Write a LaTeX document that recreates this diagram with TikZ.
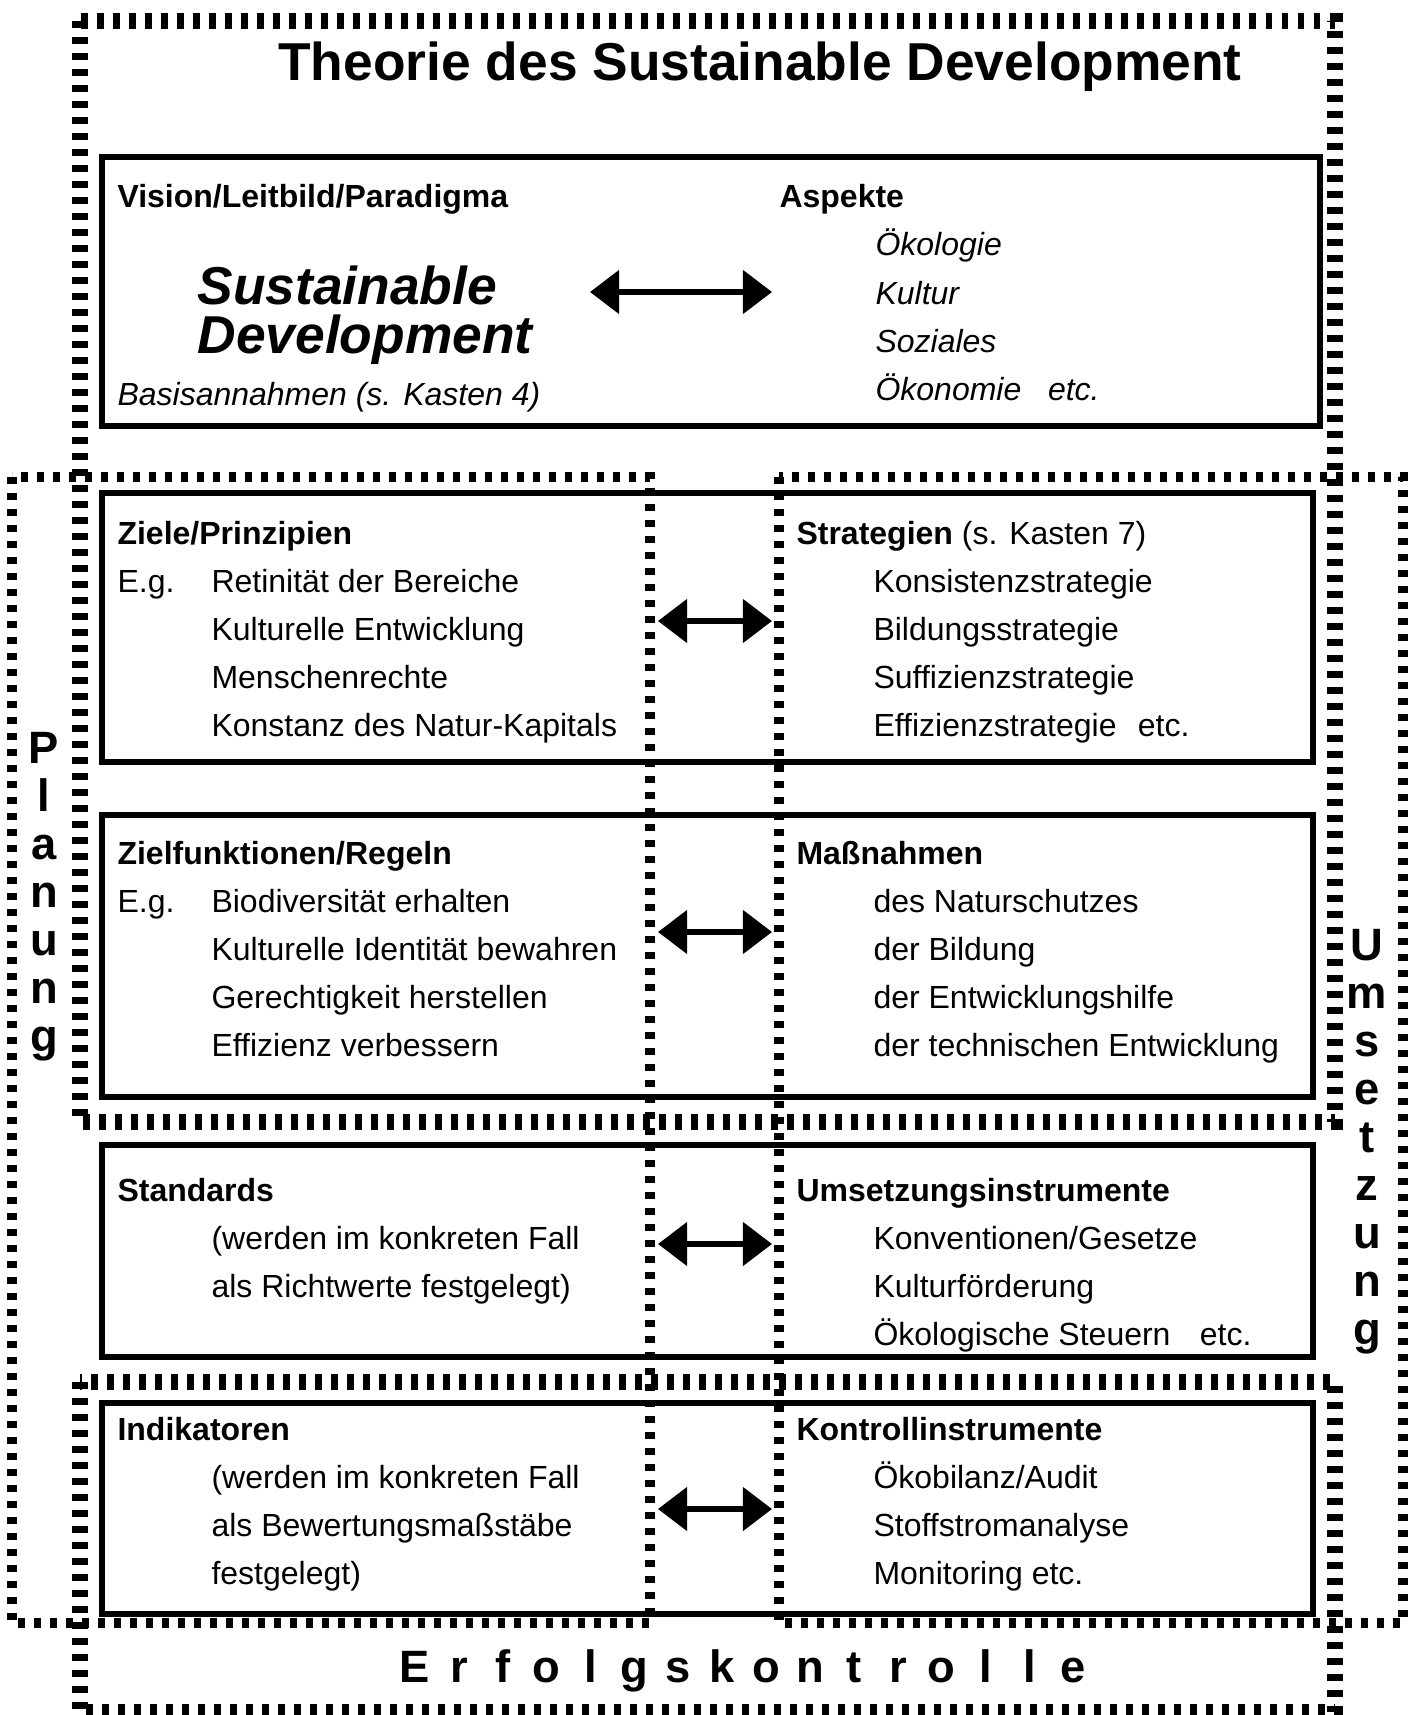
\documentclass[tikz,border=0pt]{standalone}
\usepackage{fontspec}
\setmainfont{Liberation Sans}
\usetikzlibrary{arrows.meta}
\tikzset{
  kasten/.style  ={draw=black,line width=1.9pt},
  theorie/.style ={draw=black,line width=5.8pt,dash pattern=on 2.45pt off 3.55pt},
  phase/.style   ={draw=black,line width=3.6pt,dash pattern=on 2.6pt off 3.4pt},
  txt/.style     ={anchor=base west,inner sep=0pt,font=\fontsize{12}{14}\selectfont},
  head/.style    ={txt,font=\fontsize{12}{14}\selectfont\bfseries},
  asp/.style     ={txt,font=\fontsize{12}{14}\selectfont\itshape},
  leitbild/.style={anchor=base west,inner sep=0pt,font=\fontsize{20}{24}\selectfont\bfseries\itshape},
  titel/.style   ={anchor=base,inner sep=0pt,font=\fontsize{20}{24}\selectfont\bfseries},
  sperr/.style   ={anchor=base,inner sep=0pt,font=\fontsize{17}{20}\selectfont\bfseries},
  link/.style    ={{Triangle[length=10.9pt,width=16.1pt]}-{Triangle[length=10.9pt,width=16.1pt]},
                   line width=1.9pt},
}

\begin{document}
\begin{tikzpicture}[x=0.375pt,y=-0.375pt]
\useasboundingbox (0,0) rectangle (1414,1715);

\newcommand{\liste}[4]{\foreach \t [count=\i] in {#4}
  \node[txt] (#1\i) at (#2,{#3+48*\i}) {\t};}

%% frames
\draw[theorie] (80,21) rectangle (1335,1122);
\draw[theorie] (80,1382) rectangle (1335,1712);
\draw[phase] (12,477) rectangle (650,1623);
\draw[phase] (779,477) rectangle (1403,1623);

\node[titel] (titel) at (760,81) {Theorie des Sustainable Development};

%% Kasten 1
\draw[kasten] (102,157) rectangle (1320,426);
\node[head] (vision) at (117,208) {Vision/Leitbild/Paradigma};
\node[leitbild] (sd1) at (197,304) {Sustainable};
\node[leitbild] (sd2) at (197,353) {Development};
\node[asp] (basis) at (117,405) {Basisannahmen (s. Kasten 4)};
\node[head] (aspekte) at (779,208) {Aspekte};
\foreach \t [count=\i] in {Ökologie, Kultur, Soziales, Ökonomie\hspace{10pt}etc.}
  \node[asp] (asp\i) at (875,{208+48*\i}) {\t};

%% Kasten 2
\draw[kasten] (102,493) rectangle (1313,762);
\node[head] (ziele) at (117,544) {Ziele/Prinzipien};
\node[txt] (eg1) at (117,592) {E.g.};
\liste{zl}{211}{544}{Retinität der Bereiche, Kulturelle Entwicklung, Menschenrechte,
  Konstanz des Natur-Kapitals}
\node[txt] (strat) at (796,544) {\textbf{Strategien} (s. Kasten 7)};
\liste{zr}{873}{544}{Konsistenzstrategie, Bildungsstrategie, Suffizienzstrategie,
  Effizienzstrategie\hspace{8pt}etc.}

%% Kasten 3
\draw[kasten] (102,815) rectangle (1313,1097);
\node[head] (regeln) at (117,864) {Zielfunktionen/Regeln};
\node[txt] (eg2) at (117,912) {E.g.};
\liste{rl}{211}{864}{Biodiversität erhalten, Kulturelle Identität bewahren,
  Gerechtigkeit herstellen, Effizienz verbessern}
\node[head] (massn) at (796,864) {Maßnahmen};
\liste{rr}{873}{864}{des Naturschutzes, der Bildung, der Entwicklungshilfe,
  der technischen Entwicklung}

%% Kasten 4
\draw[kasten] (102,1145) rectangle (1313,1357);
\node[head] (stand) at (117,1201) {Standards};
\liste{sl}{211}{1201}{{(werden im konkreten Fall}, {als Richtwerte festgelegt)}}
\node[head] (umsetz) at (796,1201) {Umsetzungsinstrumente};
\liste{sr}{873}{1201}{Konventionen/Gesetze, Kulturförderung,
  Ökologische Steuern\hspace{11pt}etc.}

%% Kasten 5
\draw[kasten] (102,1403) rectangle (1313,1614);
\node[head] (indik) at (117,1440) {Indikatoren};
\liste{il}{211}{1440}{{(werden im konkreten Fall}, {als Bewertungsmaßstäbe}, {festgelegt)}}
\node[head] (kontr) at (796,1440) {Kontrollinstrumente};
\liste{ir}{873}{1440}{Ökobilanz/Audit, Stoffstromanalyse, Monitoring etc.}

%% double arrows
\foreach \n/\xa/\yy in {1/590/292, 2/658/621, 3/658/932, 4/658/1244, 5/658/1509}
  { \coordinate (al\n) at (\xa,\yy);
    \coordinate (ar\n) at (772,\yy);
    \draw[link] (al\n) -- (ar\n); }

%% spaced labels
\foreach \c [count=\i from 0] in {P,l,a,n,u,n,g}
  \node[sperr] (plan\i) at (44,{763+48*\i}) {\c};
\foreach \c [count=\i from 0] in {U,m,s,e,t,z,u,n,g}
  \node[sperr] (ums\i) at (1367,{960+48*\i}) {\c};
\foreach \c [count=\i from 0] in {E,r,f,o,l,g,s,k,o,n,t,r,o,l,l,e}
  \node[sperr] (erf\i) at ({415+43.9*\i},1682) {\c};
\end{tikzpicture}
\end{document}
